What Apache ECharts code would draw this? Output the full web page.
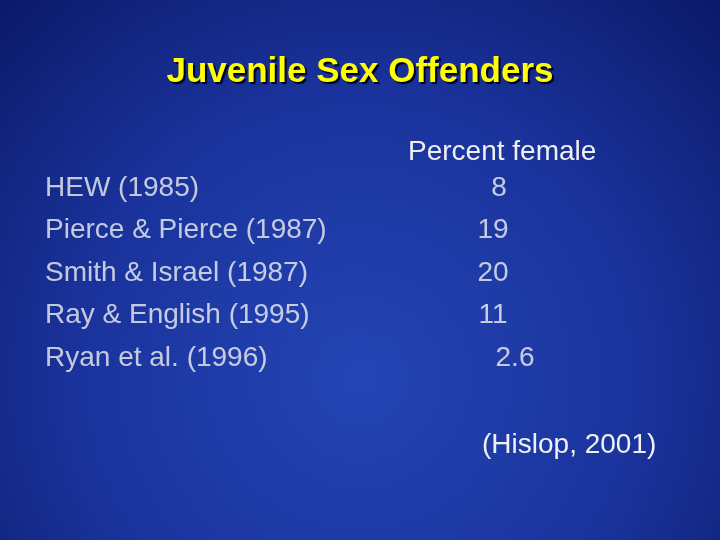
<!DOCTYPE html>
<html>
<head>
<meta charset="utf-8">
<title>Juvenile Sex Offenders</title>
<script src="https://cdn.jsdelivr.net/npm/echarts@6/dist/echarts.min.js"></script>
<style>html,body{margin:0;padding:0;}</style>
</head>
<body>
<div id="main" style="width:720px;height:540px;"></div>
<script type="text/javascript">
var studies = ['HEW (1985)', 'Pierce & Pierce (1987)', 'Smith & Israel (1987)', 'Ray & English (1995)', 'Ryan et al. (1996)'];
var percentFemale = ['8', '19', '20', '11', '2.6'];
var valueColumnX = [499, 493, 493, 493, 515];

var chart = echarts.init(document.getElementById('main'));
var font = '"Liberation Sans"';

chart.setOption({
  backgroundColor: {
    type: 'radial', x: 0.5, y: 0.7, r: 0.95,
    colorStops: [{offset: 0, color: '#2445b5'}, {offset: 0.55, color: '#1a339c'}, {offset: 1, color: '#0b1a6a'}]
  },
  title: [{
    text: 'Juvenile Sex Offenders', left: 'center', top: 50,
    textStyle: {color: '#ffff00', fontSize: 35, fontWeight: 'bold', fontFamily: font,
      textShadowColor: '#000022', textShadowOffsetX: 2, textShadowOffsetY: 2, textShadowBlur: 1}
  }, {
    text: 'Percent female', left: 403, top: 133,
    textStyle: {color: '#f0f0f0', fontSize: 28, fontWeight: 'normal', fontFamily: font}
  }, {
    text: '(Hislop, 2001)', left: 477, top: 426,
    textStyle: {color: '#f0f0f0', fontSize: 28, fontWeight: 'normal', fontFamily: font}
  }],
  grid: {left: 0, right: 0, top: 167, height: 212},
  xAxis: {type: 'value', min: 0, max: 720, show: false},
  yAxis: {type: 'category', data: studies, inverse: true, show: false},
  series: [{
    type: 'scatter', symbolSize: 0, silent: true,
    data: studies.map(function (s, i) { return {value: [45, i], name: s}; }),
    label: {show: true, position: 'right', distance: 0, formatter: '{b}',
      color: '#f0f0f0', fontSize: 28, fontFamily: font}
  }, {
    type: 'scatter', symbolSize: 0, silent: true,
    data: percentFemale.map(function (v, i) { return {value: [valueColumnX[i], i], name: v}; }),
    label: {show: true, position: 'inside', formatter: '{b}',
      color: '#f0f0f0', fontSize: 28, fontFamily: font}
  }]
});
</script>
</body>
</html>
